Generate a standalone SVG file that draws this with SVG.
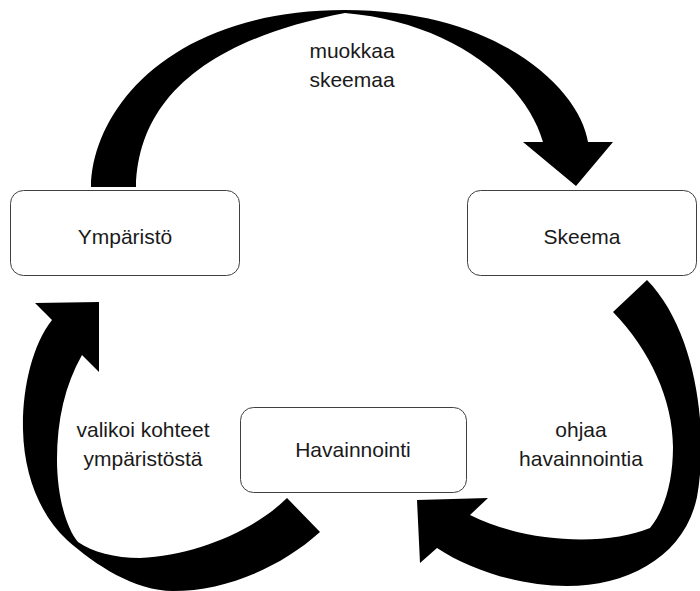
<svg xmlns="http://www.w3.org/2000/svg" width="700" height="591" viewBox="0 0 700 591">
<style>
.box{fill:#fff;stroke:#404040;stroke-width:1}
.lbl{font-family:"Liberation Sans",Arial,sans-serif;font-size:21px;fill:#1a1a1a;text-anchor:middle}
.arr{fill:#000;stroke:none}
</style>
<rect width="700" height="591" fill="#fff"/>
<g id="connectors">
<path id="a-top" class="arr" d="M91,187 C92,110 170,10 345,10 C500,10 580,90 588,142 L613,142 L576,186 L523,142 L543,142 C525,80 450,22 345,13 C205,40 138,100 136,187 Z"/>
<path id="a-left" class="arr" d="M52,320 C32,345 22,390 23,430 C24,475 40,515 67,540 C95,565 135,591 173,591 C225,591 280,568 320,532 L287,498 C255,530 195,556 140,558 C115,558 92,552 78,542 C66,528 57,495 57,460 C57,420 65,385 82,355 L99,372 L99,302 L35,303 Z"/>
<path id="a-right" class="arr" d="M437,548 C470,570 520,586 567,586 C630,586 685,555 697,497 C709,430 696,330 647,280 L613,312 C650,350 673,400 673,447 C673,480 665,510 650,528 C610,545 530,545 470,515 L488,498 L417,500 L420,563 Z"/>
<text class="lbl" x="352" y="58">muokkaa</text>
<text class="lbl" x="352" y="87">skeemaa</text>
<text class="lbl" x="143" y="437">valikoi kohteet</text>
<text class="lbl" x="143" y="466">ympäristöstä</text>
<text class="lbl" x="581" y="437">ohjaa</text>
<text class="lbl" x="581" y="466">havainnointia</text>
</g>
<g id="n-ymparisto">
<rect class="box" x="10.5" y="190.5" width="229" height="85" rx="13"/>
<text class="lbl" x="125" y="244">Ympäristö</text>
</g>
<g id="n-skeema">
<rect class="box" x="467.5" y="190.5" width="229" height="85" rx="13"/>
<text class="lbl" x="582" y="244">Skeema</text>
</g>
<g id="n-havainnointi">
<rect class="box" x="240.5" y="407.5" width="226" height="85" rx="13"/>
<text class="lbl" x="353" y="457">Havainnointi</text>
</g>
</svg>
